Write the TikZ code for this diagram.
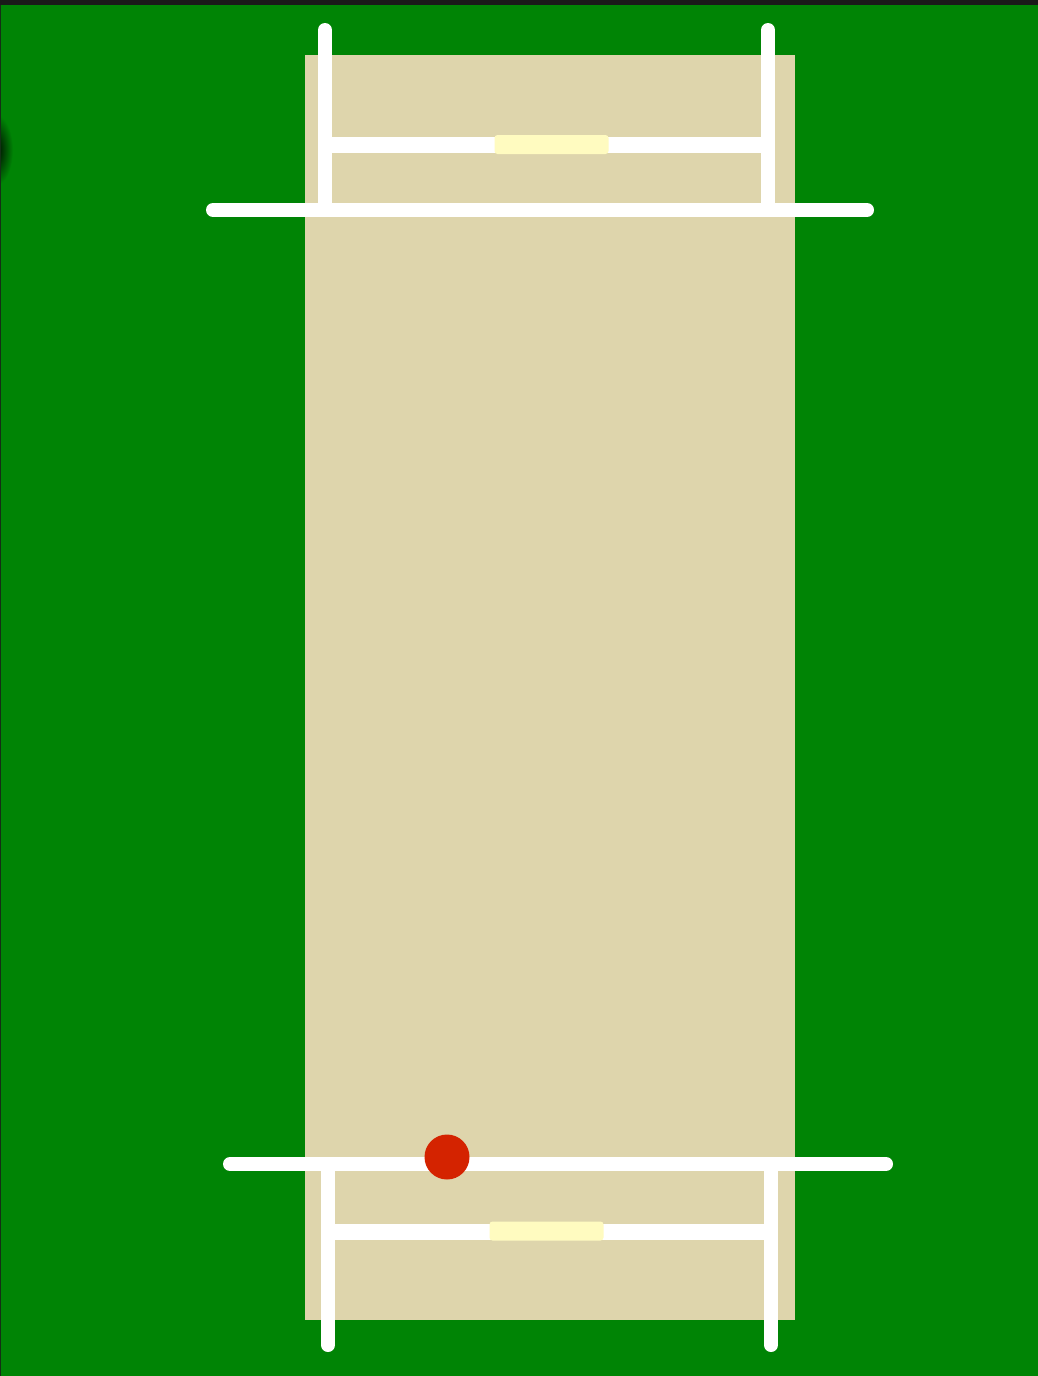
\documentclass[tikz,border=0pt]{standalone}
\usepackage{xcolor}
\usetikzlibrary{positioning, calc}
\definecolor{outfield}{HTML}{008405}
\definecolor{pitchclay}{HTML}{DED5AC}
\definecolor{wicketmat}{HTML}{FFFBC0}
\definecolor{ballred}{HTML}{D42300}
\definecolor{topstrip}{HTML}{1A1A1A}

\begin{document}
\begin{tikzpicture}[
  x=1pt,
  y=-1pt,
  pitch/.style={rectangle, fill=pitchclay, inner sep=0pt, minimum width=490pt, minimum height=1265pt},
  mat/.style={rectangle, rounded corners=3pt, fill=wicketmat, inner sep=0pt, minimum width=114pt, minimum height=19pt},
  ball/.style={circle, fill=ballred, inner sep=0pt, minimum size=45pt},
  crease/.style={draw=white, line width=14pt, line cap=round},
  stumpline/.style={draw=white, line width=14pt, line cap=round},
  midline/.style={draw=white, line width=16pt}
]
  \useasboundingbox (0,0) rectangle (1038,1376);

  % Fond
  \fill[outfield] (0,0) rectangle (1038,1376);
  \fill[topstrip] (0,0) rectangle (1038,5);
  \begin{scope}
    \clip (0,5) rectangle (40,300);
    \shade[inner color=black, outer color=outfield] (-5,150) ellipse (18 and 36);
  \end{scope}
  \fill[topstrip!80!outfield] (0,5) rectangle (1,1376);

  % Terrain
  \node[pitch] (strip) at (550,687.5) {};

  % Haut
  \coordinate (topcreaseL) at (213,210);
  \coordinate (topcreaseR) at (867,210);
  \coordinate (topstumpLa) at (325,30);
  \coordinate (topstumpLb) at (325,210);
  \coordinate (topstumpRa) at (768,30);
  \coordinate (topstumpRb) at (768,210);
  \coordinate (topmidL) at (325,144.5);
  \coordinate (topmidR) at (768,144.5);
  \draw[midline] (topmidL) -- (topmidR);
  \draw[stumpline] (topstumpLa) -- (topstumpLb);
  \draw[stumpline] (topstumpRa) -- (topstumpRb);
  \draw[crease] (topcreaseL) -- (topcreaseR);
  \node[mat] (topmat) at (551.5,144.5) {};

  % Bas
  \coordinate (botcreaseL) at (230,1164);
  \coordinate (botcreaseR) at (886,1164);
  \coordinate (botstumpLa) at (328,1164);
  \coordinate (botstumpLb) at (328,1345);
  \coordinate (botstumpRa) at (771,1164);
  \coordinate (botstumpRb) at (771,1345);
  \coordinate (botmidL) at (328,1232);
  \coordinate (botmidR) at (771,1232);
  \draw[midline] (botmidL) -- (botmidR);
  \draw[stumpline] (botstumpLa) -- (botstumpLb);
  \draw[stumpline] (botstumpRa) -- (botstumpRb);
  \draw[crease] (botcreaseL) -- (botcreaseR);
  \node[mat] (botmat) at (546.5,1231) {};

  % Balle
  \node[ball] (cricketball) at (447,1157) {};
\end{tikzpicture}
\end{document}
